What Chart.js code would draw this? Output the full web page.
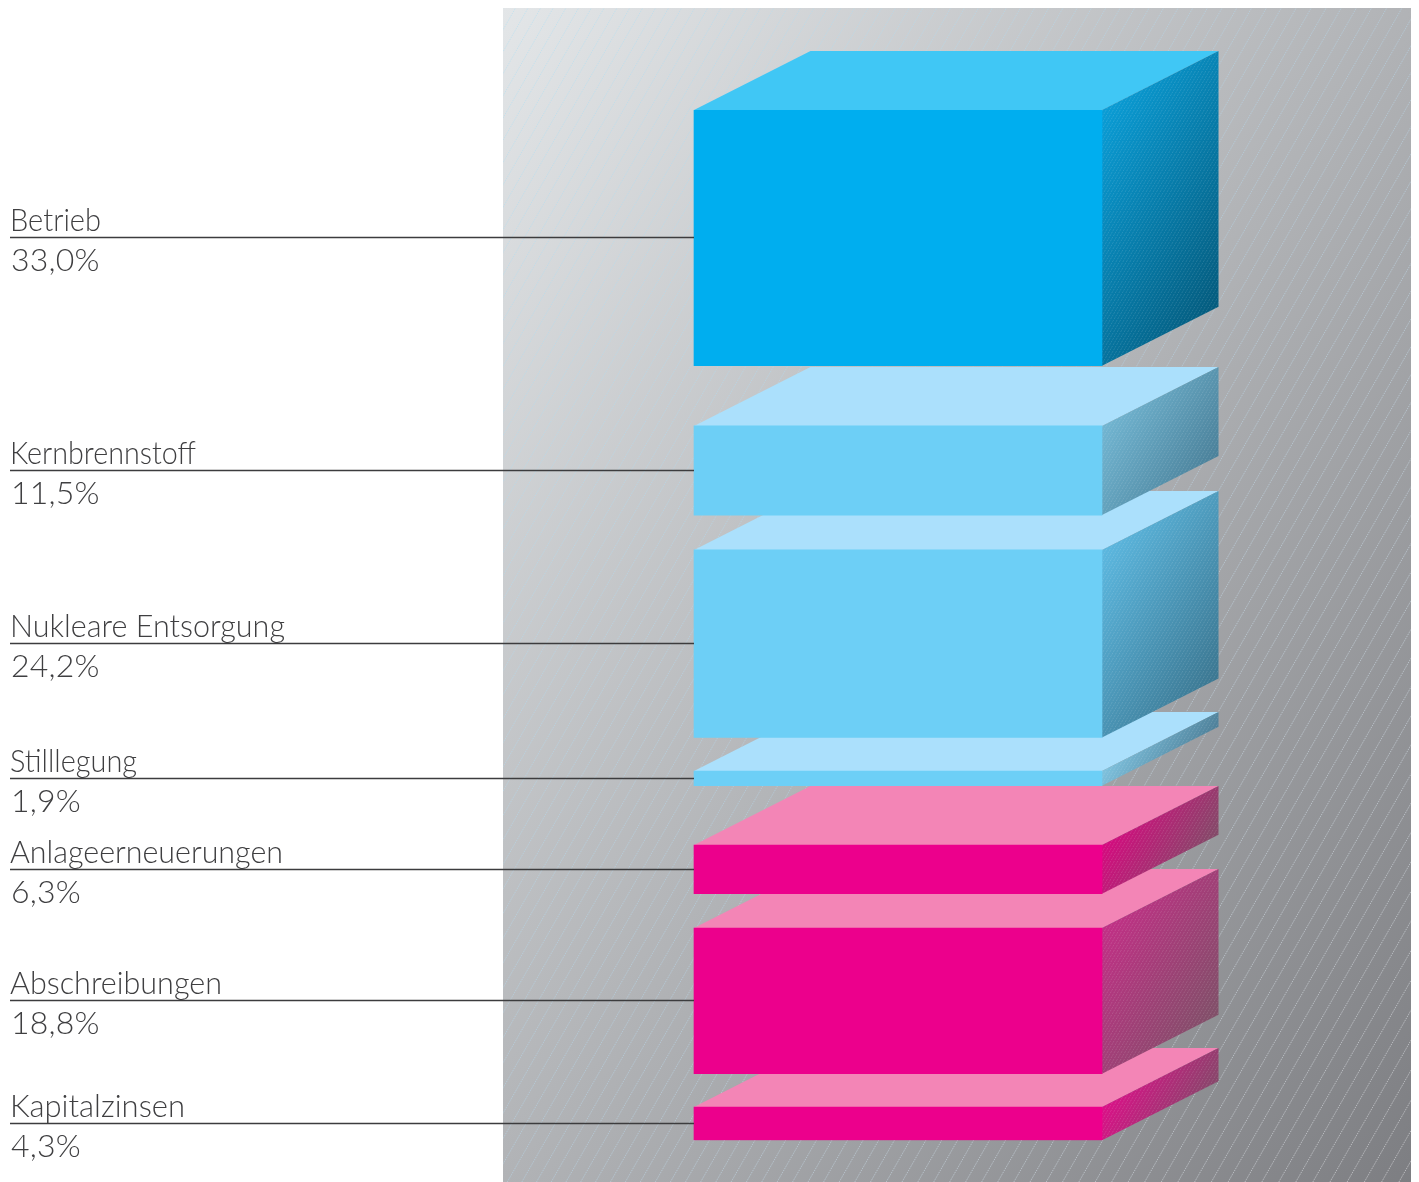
<!DOCTYPE html>
<html lang="de">
<head>
<meta charset="utf-8">
<title>Kostenstruktur</title>
<script src="https://cdn.jsdelivr.net/npm/chart.js@4/dist/chart.umd.min.js"></script>
<style>
    html, body { margin: 0; padding: 0; background: #fff; }
    canvas { display: block; }
</style>
</head>
<body>
<canvas id="chartCosts" width="1419" height="1182"></canvas>
<script>
const categories = ['Betrieb', 'Kernbrennstoff', 'Nukleare Entsorgung', 'Stilllegung', 'Anlageerneuerungen', 'Abschreibungen', 'Kapitalzinsen'];
const shares = [33.0, 11.5, 24.2, 1.9, 6.3, 18.8, 4.3];
// empty space left above each slab, in the same percent units as the shares
const gapsAbove = [0, 7.77, 4.5, 4.32, 7.65, 4.41, 4.3];

const FRONT = ['#00aeef', '#6dcff6', '#6dcff6', '#6dcff6', '#ec008c', '#ec008c', '#ec008c'];
const TOP = ['#40c7f5', '#abe0fc', '#abe0fc', '#abe0fc', '#f385b6', '#f385b6', '#f385b6'];
const SIDE = [
    ['#0a9dd6', '#045a7c'],
    ['#72b6d2', '#4a8099'],
    ['#5cb8e0', '#3b7690'],
    ['#7fc2de', '#4d7f98'],
    ['#d6097f', '#814c68'],
    ['#c22f86', '#7f5068'],
    ['#dc0f88', '#85486a'],
];

const DEPTH_X = 116.5;
const DEPTH_Y = -59;
const SHADE_DIR = [0.87, 0.5];
const TEXT_FONT = '300 32px Lato, sans-serif';
const LINE_LEFT = 10;
// Lato runs wider than the set we want, so names get squeezed to these widths
const NAME_WIDTHS = [91, 186, 275, 127, 273, 212, 175];

const ranges = [];
let cursor = 0;
shares.forEach((share, i) => {
    cursor += gapsAbove[i];
    ranges.push([cursor, cursor + share]);
    cursor += share;
});
const axisMax = cursor;

// parallel diagonals; widen > 0 opens the spacing up towards the right
function hatch(ctx, left, top, right, bottom, spacing, slope, widen = 0) {
    const height = bottom - top;
    const run = height / slope;
    const from = left - run;
    const to = right + run;
    for (let x = from; x < to; x += spacing + widen * (x - from) / (to - from)) {
        ctx.beginPath();
        ctx.moveTo(x, bottom);
        ctx.lineTo(x + run, top);
        ctx.stroke();
    }
}

const backdrop = {
    id: 'backdrop',
    beforeDraw(chart) {
        const ctx = chart.ctx;
        const left = 503, top = 8, right = 1411, bottom = 1182;

        ctx.save();
        const shade = ctx.createLinearGradient(left, top, 1639, 887);
        shade.addColorStop(0, '#e3e6e8');
        shade.addColorStop(0.5, '#b1b3b6');
        shade.addColorStop(1, '#7d7e82');
        ctx.fillStyle = shade;
        ctx.fillRect(left, top, right - left, bottom - top);

        ctx.beginPath();
        ctx.rect(left, top, right - left, bottom - top);
        ctx.clip();
        const ink = ctx.createLinearGradient(left, top, 1639, 887);
        ink.addColorStop(0, '#c6e2ee');
        ink.addColorStop(0.5, '#b4c6d2');
        ink.addColorStop(1, '#b8b8bb');
        ctx.strokeStyle = ink;
        ctx.lineWidth = 1;
        ctx.setLineDash([1.5, 1]);
        hatch(ctx, left, top, right, bottom, 12.5, 1.75, 7);
        ctx.restore();
    },
};

// top and side faces go under each bar's front, bottom slab first
const slabFaces = {
    id: 'slabFaces',
    beforeDatasetDraw(chart, args) {
        const ctx = chart.ctx;
        const bar = args.meta.data[0];
        const i = args.index;
        const x0 = bar.x - bar.width / 2;
        const x1 = bar.x + bar.width / 2;
        const y0 = Math.min(bar.y, bar.base);
        const y1 = Math.max(bar.y, bar.base);

        ctx.save();
        ctx.fillStyle = TOP[i];
        ctx.beginPath();
        ctx.moveTo(x0, y0);
        ctx.lineTo(x0 + DEPTH_X, y0 + DEPTH_Y);
        ctx.lineTo(x1 + DEPTH_X, y0 + DEPTH_Y);
        ctx.lineTo(x1, y0);
        ctx.closePath();
        ctx.fill();

        // all side faces shade along one direction, spanning corner to far corner
        const span = DEPTH_X * SHADE_DIR[0] + (y1 - y0 + DEPTH_Y) * SHADE_DIR[1];
        const side = ctx.createLinearGradient(x1, y0, x1 + SHADE_DIR[0] * span, y0 + SHADE_DIR[1] * span);
        side.addColorStop(0, SIDE[i][0]);
        side.addColorStop(1, SIDE[i][1]);
        ctx.fillStyle = side;
        ctx.beginPath();
        ctx.moveTo(x1, y0);
        ctx.lineTo(x1 + DEPTH_X, y0 + DEPTH_Y);
        ctx.lineTo(x1 + DEPTH_X, y1 + DEPTH_Y);
        ctx.lineTo(x1, y1);
        ctx.closePath();
        ctx.fill();

        ctx.clip();
        ctx.strokeStyle = 'rgba(255, 255, 255, 0.13)';
        ctx.lineWidth = 1;
        ctx.setLineDash([2, 1]);
        hatch(ctx, x1, y0 + DEPTH_Y, x1 + DEPTH_X, y1, 3.5, 1.72);
        ctx.restore();
    },
};

const leaderLabels = {
    id: 'leaderLabels',
    afterDatasetsDraw(chart) {
        const ctx = chart.ctx;
        ctx.save();
        ctx.textAlign = 'left';
        ctx.textBaseline = 'alphabetic';
        ctx.font = TEXT_FONT;
        chart.data.datasets.forEach((ds, i) => {
            const bar = chart.getDatasetMeta(i).data[0];
            const y = Math.floor((bar.y + bar.base) / 2) + 0.5;
            const x = bar.x - bar.width / 2;

            ctx.strokeStyle = '#3c3c3e';
            ctx.lineWidth = 1.5;
            ctx.beginPath();
            ctx.moveTo(LINE_LEFT, y);
            ctx.lineTo(x, y);
            ctx.stroke();

            ctx.fillStyle = '#3f3f41';
            ctx.letterSpacing = '0px';
            ctx.fillText(categories[i], LINE_LEFT, y - 7, NAME_WIDTHS[i]);
            ctx.letterSpacing = '0.2px';
            ctx.fillText(shares[i].toFixed(1).replace('.', ',') + '%', LINE_LEFT + 1, y + 33);
        });
        ctx.restore();
    },
};

function drawChart() {
    const canvas = document.getElementById('chartCosts');

    new Chart(canvas, {
        type: 'bar',
        data: {
            labels: ['Kosten'],
            datasets: categories.map((name, i) => ({
                label: name,
                data: [ranges[i]],
                backgroundColor: FRONT[i],
                borderWidth: 0,
                borderSkipped: false,
                grouped: false,
                barThickness: 408,
            })),
        },
        options: {
            responsive: false,
            animation: false,
            layout: { padding: { left: 503, right: 126, top: 110, bottom: 41.7 } },
            plugins: {
                legend: { display: false },
                tooltip: { enabled: false },
            },
            scales: {
                x: { display: false },
                y: { display: false, reverse: true, min: 0, max: axisMax },
            },
        },
        plugins: [backdrop, slabFaces, leaderLabels],
    });
}

drawChart();
</script>
</body>
</html>
